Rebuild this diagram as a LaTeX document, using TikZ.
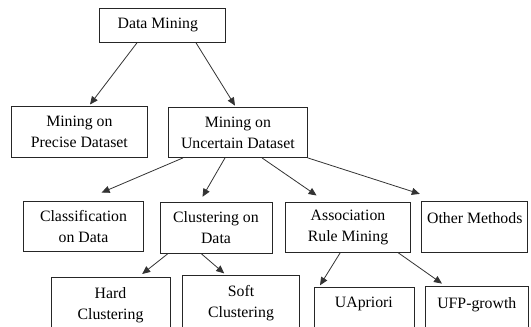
\documentclass[tikz,border=0pt]{standalone}
\usepackage{fontspec}
\setmainfont{Liberation Serif}
\usetikzlibrary{arrows.meta,calc}

\begin{document}
\begin{tikzpicture}[x=1pt, y=-1pt, >={Triangle[length=8pt,width=7pt]},
    box/.style={draw=black!85, line width=0.8pt, align=center, inner sep=4pt,
      font=\fontsize{15.8}{21}\selectfont},
    topbox/.style={box, anchor=north, text height=17pt, text depth=40pt},
    link/.style={->, draw=black!80, line width=0.8pt}]
    % Page frame
    \useasboundingbox (0,0) rectangle (531,327);
    \clip (0,0) rectangle (531,327);

    % Root and first level
    \node[box, minimum width=126pt, minimum height=34pt] (dm) at (162.8,25.4) {Data Mining\hspace{10pt}};
    \node[box, minimum width=136pt, minimum height=51pt] (pre) at (79.4,132.1) {Mining on\\Precise Dataset};
    \node[box, minimum width=139pt, minimum height=50pt] (unc) at (237.9,132.5) {Mining on\\Uncertain Dataset};

    % Second level
    \node[box, minimum width=120pt, minimum height=50pt] (cls) at (83.5,226.2) {Classification\\on Data};
    \node[box, minimum width=112pt, minimum height=51pt] (clu) at (216,228) {Clustering on\\Data};
    \node[box, minimum width=125pt, minimum height=50pt] (asr) at (348,227.2) {Association\\Rule Mining};
    \node[box, anchor=north, minimum width=106pt, minimum height=51pt,
      text height=18pt, text depth=25pt] (oth) at (474.8,201) {Other Methods};

    % Third level (cut by the page edge)
    \node[topbox, minimum width=119pt, text height=38pt] (hard) at (110.5,276.8) {Hard\\Clustering};
    \node[topbox, minimum width=117pt, text height=38pt] (soft) at (241,275) {Soft\\Clustering};
    \node[topbox, minimum width=100pt, text height=16pt] (uap) at (363.9,287.3) {UApriori};
    \node[topbox, minimum width=103pt, text height=18pt] (ufp) at (476.8,286) {UFP-growth};

    % Connectors
    \draw[link] ([xshift=-25.8pt]dm.south) -- ([xshift=10.6pt,yshift=1.7pt]pre.north);
    \draw[link] ([xshift=33.2pt]dm.south) -- ([xshift=-2.9pt,yshift=1.5pt]unc.north);
    \draw[link] ([xshift=-54.9pt]unc.south) -- ([xshift=18.1pt,yshift=8.2pt]cls.north);
    \draw[link] ([xshift=-12.9pt]unc.south) -- ([xshift=-13.5pt,yshift=5.3pt]clu.north);
    \draw[link] ([xshift=24.1pt]unc.south) -- ([xshift=-31.4pt,yshift=6.3pt]asr.north);
    \draw[link] (unc.south east) -- ([xshift=-1.6pt,yshift=7.1pt]oth.north west);
    \draw[link] ([xshift=-48.4pt]clu.south) -- ([xshift=31.7pt,yshift=2.8pt]hard.north);
    \draw[link] ([xshift=-14.5pt]clu.south) -- ([xshift=-16.8pt,yshift=1.6pt]soft.north);
    \draw[link] ([xshift=-7.7pt]asr.south) -- ([xshift=-43.9pt,yshift=2pt]uap.north);
    \draw[link] ([xshift=50pt]asr.south) -- ([xshift=-34.8pt,yshift=2.4pt]ufp.north);
\end{tikzpicture}
\end{document}
